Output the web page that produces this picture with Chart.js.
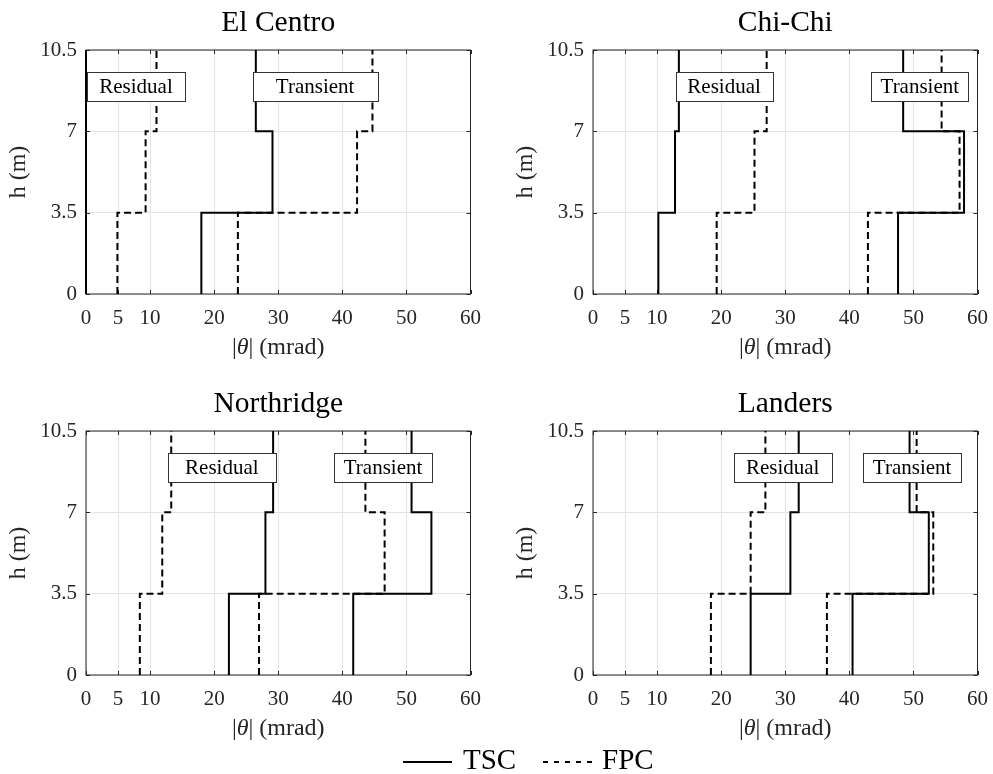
<!DOCTYPE html>
<html>
<head>
<meta charset="utf-8">
<script src="https://cdn.jsdelivr.net/npm/chart.js@4.4.1/dist/chart.umd.min.js"></script>
<style>
  body { margin: 0; background: #fff; }
  #wrap { position: relative; width: 993px; height: 774px; overflow: hidden; }
  #wrap canvas { position: absolute; }
  #legend { position: absolute; left: 0; top: 740px; width: 993px; height: 34px;
            font-family: 'Liberation Serif', serif; font-size: 29px; color: #000; }
  #legend svg, #legend span { position: absolute; }
</style>
</head>
<body>
<div id="wrap">
  <canvas id="c0" width="493" height="370" style="left:0;top:0"></canvas>
  <canvas id="c1" width="493" height="370" style="left:507px;top:0"></canvas>
  <canvas id="c2" width="493" height="370" style="left:0;top:381px"></canvas>
  <canvas id="c3" width="493" height="370" style="left:507px;top:381px"></canvas>
  <div id="legend">
    <svg width="50" height="6" style="left:403px;top:19px"><line x1="0" y1="3" x2="49" y2="3" stroke="#000" stroke-width="2"/></svg>
    <span style="left:463px;top:3px">TSC</span>
    <svg width="50" height="6" style="left:543px;top:19px"><line x1="0" y1="3" x2="49" y2="3" stroke="#000" stroke-width="2" stroke-dasharray="5 6"/></svg>
    <span style="left:602px;top:3px">FPC</span>
  </div>
</div>
<script>
// storey heights (m) and axis ticks
const heights = [0, 3.5, 7, 10.5];
const xTickVals = [0, 5, 10, 20, 30, 40, 50, 60];
const yTickVals = [0, 3.5, 7, 10.5];
const records = ['El Centro', 'Chi-Chi', 'Northridge', 'Landers'];

// |theta| per storey (1st, 2nd, 3rd), mrad
const residualTSC  = [[0, 0, 0], [10.2, 12.8, 13.4], [22.3, 28.0, 29.2], [24.6, 30.8, 32.1]];
const residualFPC  = [[4.9, 9.3, 11.0], [19.3, 25.2, 27.1], [8.4, 11.9, 13.3], [18.4, 24.6, 26.9]];
const transientTSC = [[18.0, 29.1, 26.5], [47.6, 57.9, 48.4], [41.7, 53.9, 50.8], [40.5, 52.4, 49.4]];
const transientFPC = [[23.7, 42.3, 44.7], [42.9, 57.2, 54.4], [27.0, 46.6, 43.6], [36.5, 53.1, 50.5]];

// text boxes: centre x (data units) and width (px)
const boxes = [
    [{ text: 'Residual', x: 7.8, w: 98 }, { text: 'Transient', x: 35.75, w: 125 }],
    [{ text: 'Residual', x: 20.45, w: 97 }, { text: 'Transient', x: 51.0, w: 97 }],
    [{ text: 'Residual', x: 21.2, w: 108 }, { text: 'Transient', x: 46.35, w: 98 }],
    [{ text: 'Residual', x: 29.6, w: 98 }, { text: 'Transient', x: 49.8, w: 98 }]
];
const boxY = 8.93;

const SERIF = "'Liberation Serif', 'Times New Roman', serif";
Chart.defaults.font.family = SERIF;
Chart.defaults.color = '#262626';

function steps(vals) {
    const pts = [];
    vals.forEach((v, i) => {
        pts.push({ x: v, y: heights[i] }, { x: v, y: heights[i + 1] });
    });
    return pts;
}

function line(vals, dashed) {
    return {
        data: steps(vals),
        showLine: true,
        borderColor: '#000',
        borderWidth: 2,
        borderDash: dashed ? [7, 4] : [],
        pointRadius: 0,
        clip: false
    };
}

// axes box with inward ticks, like matlab
const framePlugin = {
    id: 'frame',
    beforeDatasetsDraw(chart) {
        const { ctx, chartArea: a, scales: { x, y } } = chart;
        ctx.save();
        ctx.strokeStyle = '#262626';
        ctx.lineWidth = 1;
        ctx.strokeRect(a.left, a.top, a.right - a.left, a.bottom - a.top);
        ctx.beginPath();
        xTickVals.forEach(v => {
            const px = Math.round(x.getPixelForValue(v)) + 0.5;
            ctx.moveTo(px, a.bottom); ctx.lineTo(px, a.bottom - 4);
            ctx.moveTo(px, a.top); ctx.lineTo(px, a.top + 4);
        });
        yTickVals.forEach(v => {
            const py = Math.round(y.getPixelForValue(v)) + 0.5;
            ctx.moveTo(a.left, py); ctx.lineTo(a.left + 4, py);
            ctx.moveTo(a.right, py); ctx.lineTo(a.right - 4, py);
        });
        ctx.stroke();
        ctx.restore();
    }
};

const boxPlugin = {
    id: 'boxes',
    afterDatasetsDraw(chart, args, opts) {
        const { ctx, scales: { x, y } } = chart;
        ctx.save();
        ctx.font = '21px ' + SERIF;
        ctx.textAlign = 'center';
        ctx.textBaseline = 'middle';
        opts.items.forEach(b => {
            const cx = x.getPixelForValue(b.x);
            const cy = y.getPixelForValue(boxY);
            const left = Math.round(cx - b.w / 2) + 0.5;
            const top = Math.round(cy - 14.5) + 0.5;
            ctx.fillStyle = '#fff';
            ctx.fillRect(left, top, b.w, 29);
            ctx.strokeStyle = '#333';
            ctx.lineWidth = 1;
            ctx.strokeRect(left, top, b.w, 29);
            ctx.fillStyle = '#000';
            ctx.fillText(b.text, cx, cy + 1);
        });
        ctx.restore();
    }
};

// x label with italic theta
const xLabelPlugin = {
    id: 'xLabel',
    afterDraw(chart) {
        const { ctx, chartArea: a } = chart;
        const parts = [['|', ''], ['θ', 'italic '], ['| (mrad)', '']];
        ctx.save();
        ctx.fillStyle = '#262626';
        ctx.textBaseline = 'middle';
        ctx.textAlign = 'left';
        let total = 0;
        parts.forEach(p => { ctx.font = p[1] + '24px ' + SERIF; total += ctx.measureText(p[0]).width; });
        let px = (a.left + a.right) / 2 - total / 2;
        const py = chart.height - 22;
        parts.forEach(p => {
            ctx.font = p[1] + '24px ' + SERIF;
            ctx.fillText(p[0], px, py);
            px += ctx.measureText(p[0]).width;
        });
        ctx.restore();
    }
};

function makeChart(i) {
    const ctx = document.getElementById('c' + i).getContext('2d');
    return new Chart(ctx, {
        type: 'scatter',
        data: {
            datasets: [
                line(residualTSC[i], false),
                line(residualFPC[i], true),
                line(transientTSC[i], false),
                line(transientFPC[i], true)
            ]
        },
        options: {
            responsive: false,
            animation: false,
            layout: { padding: { left: 0, right: 22, top: 0, bottom: 0 } },
            plugins: {
                legend: { display: false },
                tooltip: { enabled: false },
                title: {
                    display: true,
                    text: records[i],
                    fullSize: false,
                    color: '#000',
                    font: { size: 29.5, weight: 'normal' },
                    padding: { top: 6, bottom: 8.6 }
                },
                boxes: { items: boxes[i] }
            },
            scales: {
                x: {
                    type: 'linear',
                    min: 0,
                    max: 60,
                    afterBuildTicks: s => { s.ticks = xTickVals.map(v => ({ value: v })); },
                    afterFit: s => { s.height = 76; },
                    grid: { color: '#e4e4e4', drawTicks: false },
                    border: { display: false },
                    ticks: {
                        padding: 12,
                        font: { size: 21 },
                        callback: v => String(v)
                    }
                },
                y: {
                    type: 'linear',
                    min: 0,
                    max: 10.5,
                    afterBuildTicks: s => { s.ticks = yTickVals.map(v => ({ value: v })); },
                    afterFit: s => { s.width = 86; },
                    grid: { color: '#e4e4e4', drawTicks: false },
                    border: { display: false },
                    ticks: {
                        padding: 9,
                        font: { size: 21 },
                        callback: v => String(v)
                    },
                    title: {
                        display: true,
                        text: 'h (m)',
                        font: { size: 24 },
                        padding: { top: 4, bottom: 0 }
                    }
                }
            }
        },
        plugins: [framePlugin, boxPlugin, xLabelPlugin]
    });
}

records.forEach((r, i) => makeChart(i));
</script>
</body>
</html>
